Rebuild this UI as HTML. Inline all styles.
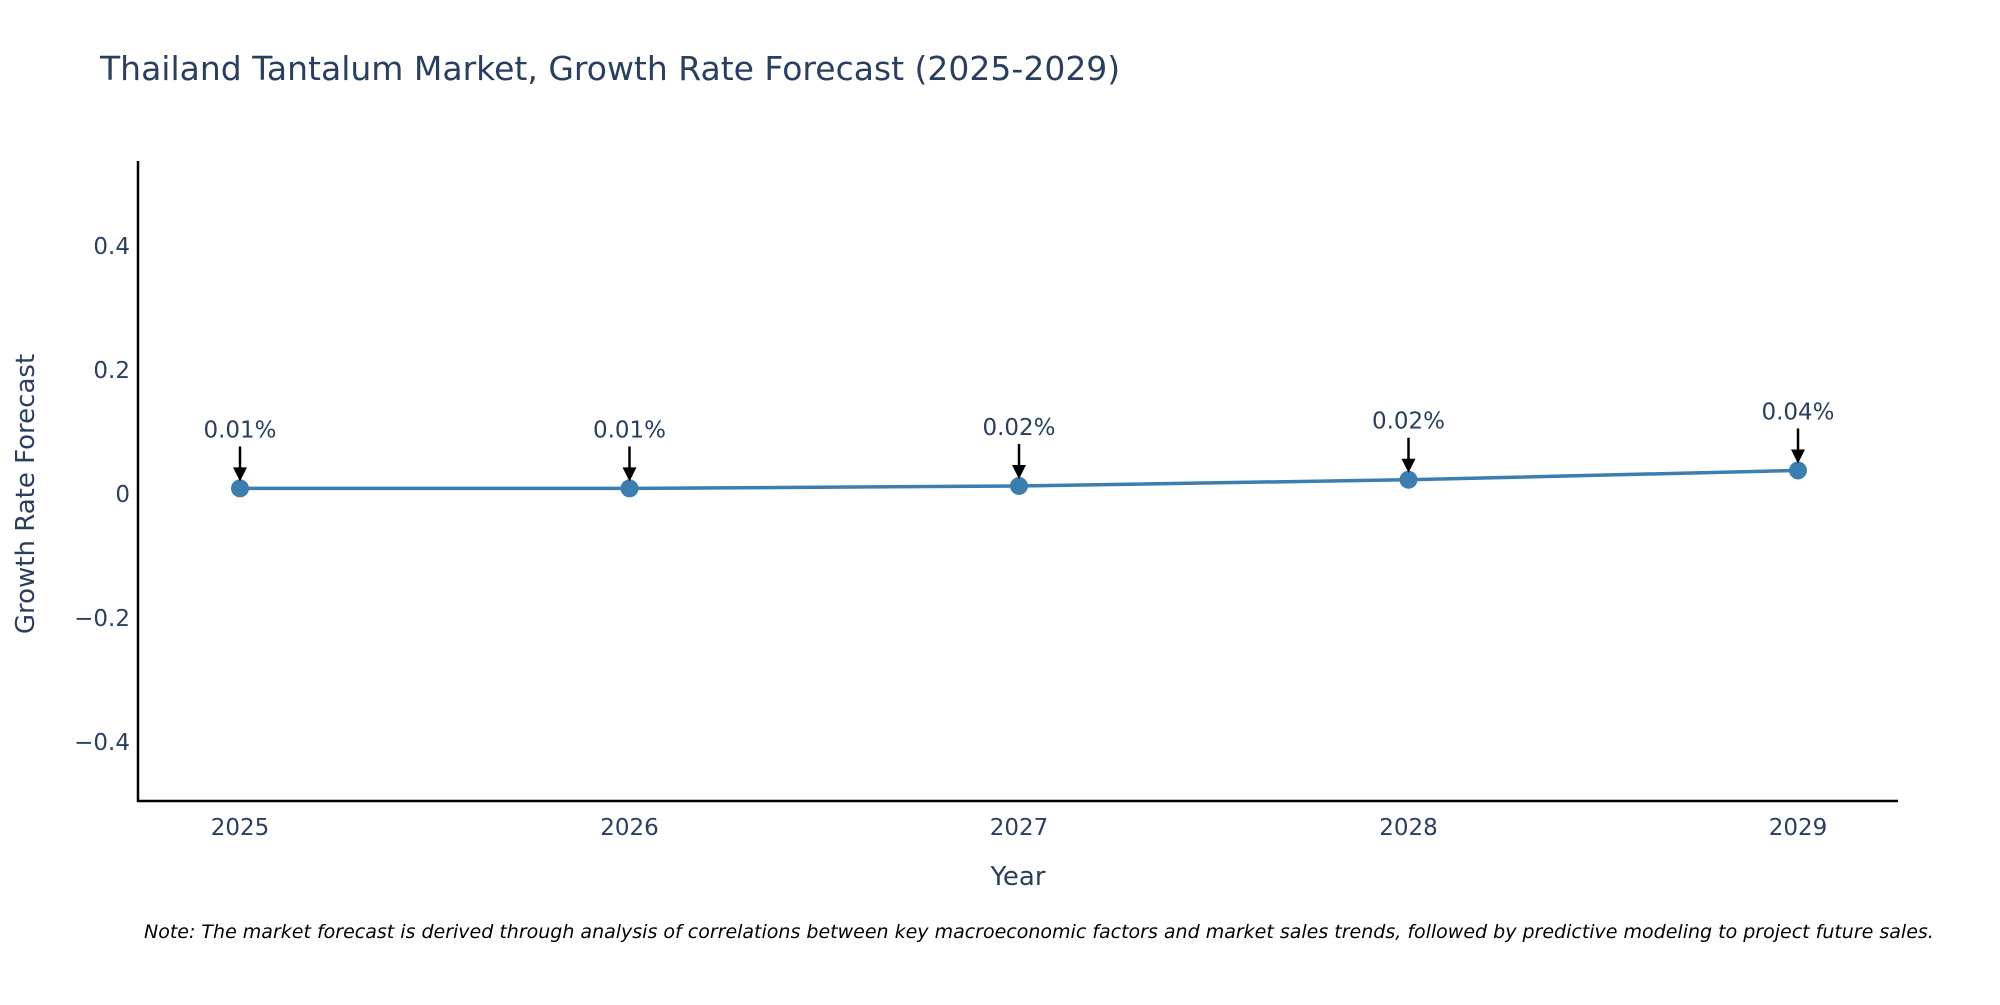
<!DOCTYPE html>
<html><head><meta charset="utf-8"><style>
body{margin:0;background:#fff;overflow:hidden;}
svg text{font-family:"DejaVu Sans","Liberation Sans",sans-serif;}
</style></head><body>
<svg id="chart" width="2000" height="1000" viewBox="0 0 2000 1000">
<text x="100" y="80" font-size="33" fill="#2a3f5f">Thailand Tantalum Market, Growth Rate Forecast (2025-2029)</text>
<g id="yticks"></g><g id="xticks"></g>
<line x1="138" y1="161" x2="138" y2="802" stroke="#000" stroke-width="2.5"/>
<line x1="137" y1="801" x2="1898" y2="801" stroke="#000" stroke-width="2.5"/>
<text x="1018" y="885" font-size="26" fill="#2a3f5f" text-anchor="middle">Year</text>
<text transform="translate(34,494) rotate(-90)" font-size="26" fill="#2a3f5f" text-anchor="middle">Growth Rate Forecast</text>
<g id="series"></g>
<text x="144" y="938" font-size="19" font-style="italic" fill="#000">Note: The market forecast is derived through analysis of correlations between key macroeconomic factors and market sales trends, followed by predictive modeling to project future sales.</text>
</svg>
<script>
const years=[2025,2026,2027,2028,2029];
const growthValues=[0.009,0.009,0.013,0.023,0.038];
const valueLabels=["0.01%","0.01%","0.02%","0.02%","0.04%"];
const yTickValues=[-0.4,-0.2,0,0.2,0.4];
const yTickLabels=["\u22120.4","\u22120.2","0","0.2","0.4"];
const NS="http://www.w3.org/2000/svg";
function xs(v){return 240+(v-2025)*(1798-240)/4;}
function ys(v){return 494-v*(494-246)/0.4;}
function mk(tag,attrs,parent){const e=document.createElementNS(NS,tag);for(const k in attrs)e.setAttribute(k,attrs[k]);parent.appendChild(e);return e;}
const yt=document.getElementById('yticks');
yTickValues.forEach((v,i)=>{const t=mk('text',{x:130,y:ys(v)+8,'font-size':23,fill:'#2a3f5f','text-anchor':'end'},yt);t.textContent=yTickLabels[i];

});
const xt=document.getElementById('xticks');
years.forEach(y=>{const t=mk('text',{x:xs(y),y:835,'font-size':23,fill:'#2a3f5f','text-anchor':'middle'},xt);t.textContent=y;

});
const s=document.getElementById('series');
const line=mk('polyline',{points:years.map((y,i)=>xs(y)+','+ys(growthValues[i])).join(' '),fill:'none',stroke:'#3d7eb0','stroke-width':3.5},s);


years.forEach((y,i)=>{const cx=xs(y),cy=ys(growthValues[i]);
const c=mk('circle',{cx:cx,cy:cy,r:9,fill:'#3d7eb0'},s);


const l=mk('line',{x1:cx,y1:cy-42,x2:cx,y2:cy-20,stroke:'#000','stroke-width':2.5},s);


const h=mk('polygon',{points:`${cx-7},${cy-21} ${cx+7},${cy-21} ${cx},${cy-7}`,fill:'#000'},s);


const t=mk('text',{x:cx,y:cy-51,'font-size':23,fill:'#2a3f5f','text-anchor':'middle'},s);t.textContent=valueLabels[i];

});
</script>
</body></html>
